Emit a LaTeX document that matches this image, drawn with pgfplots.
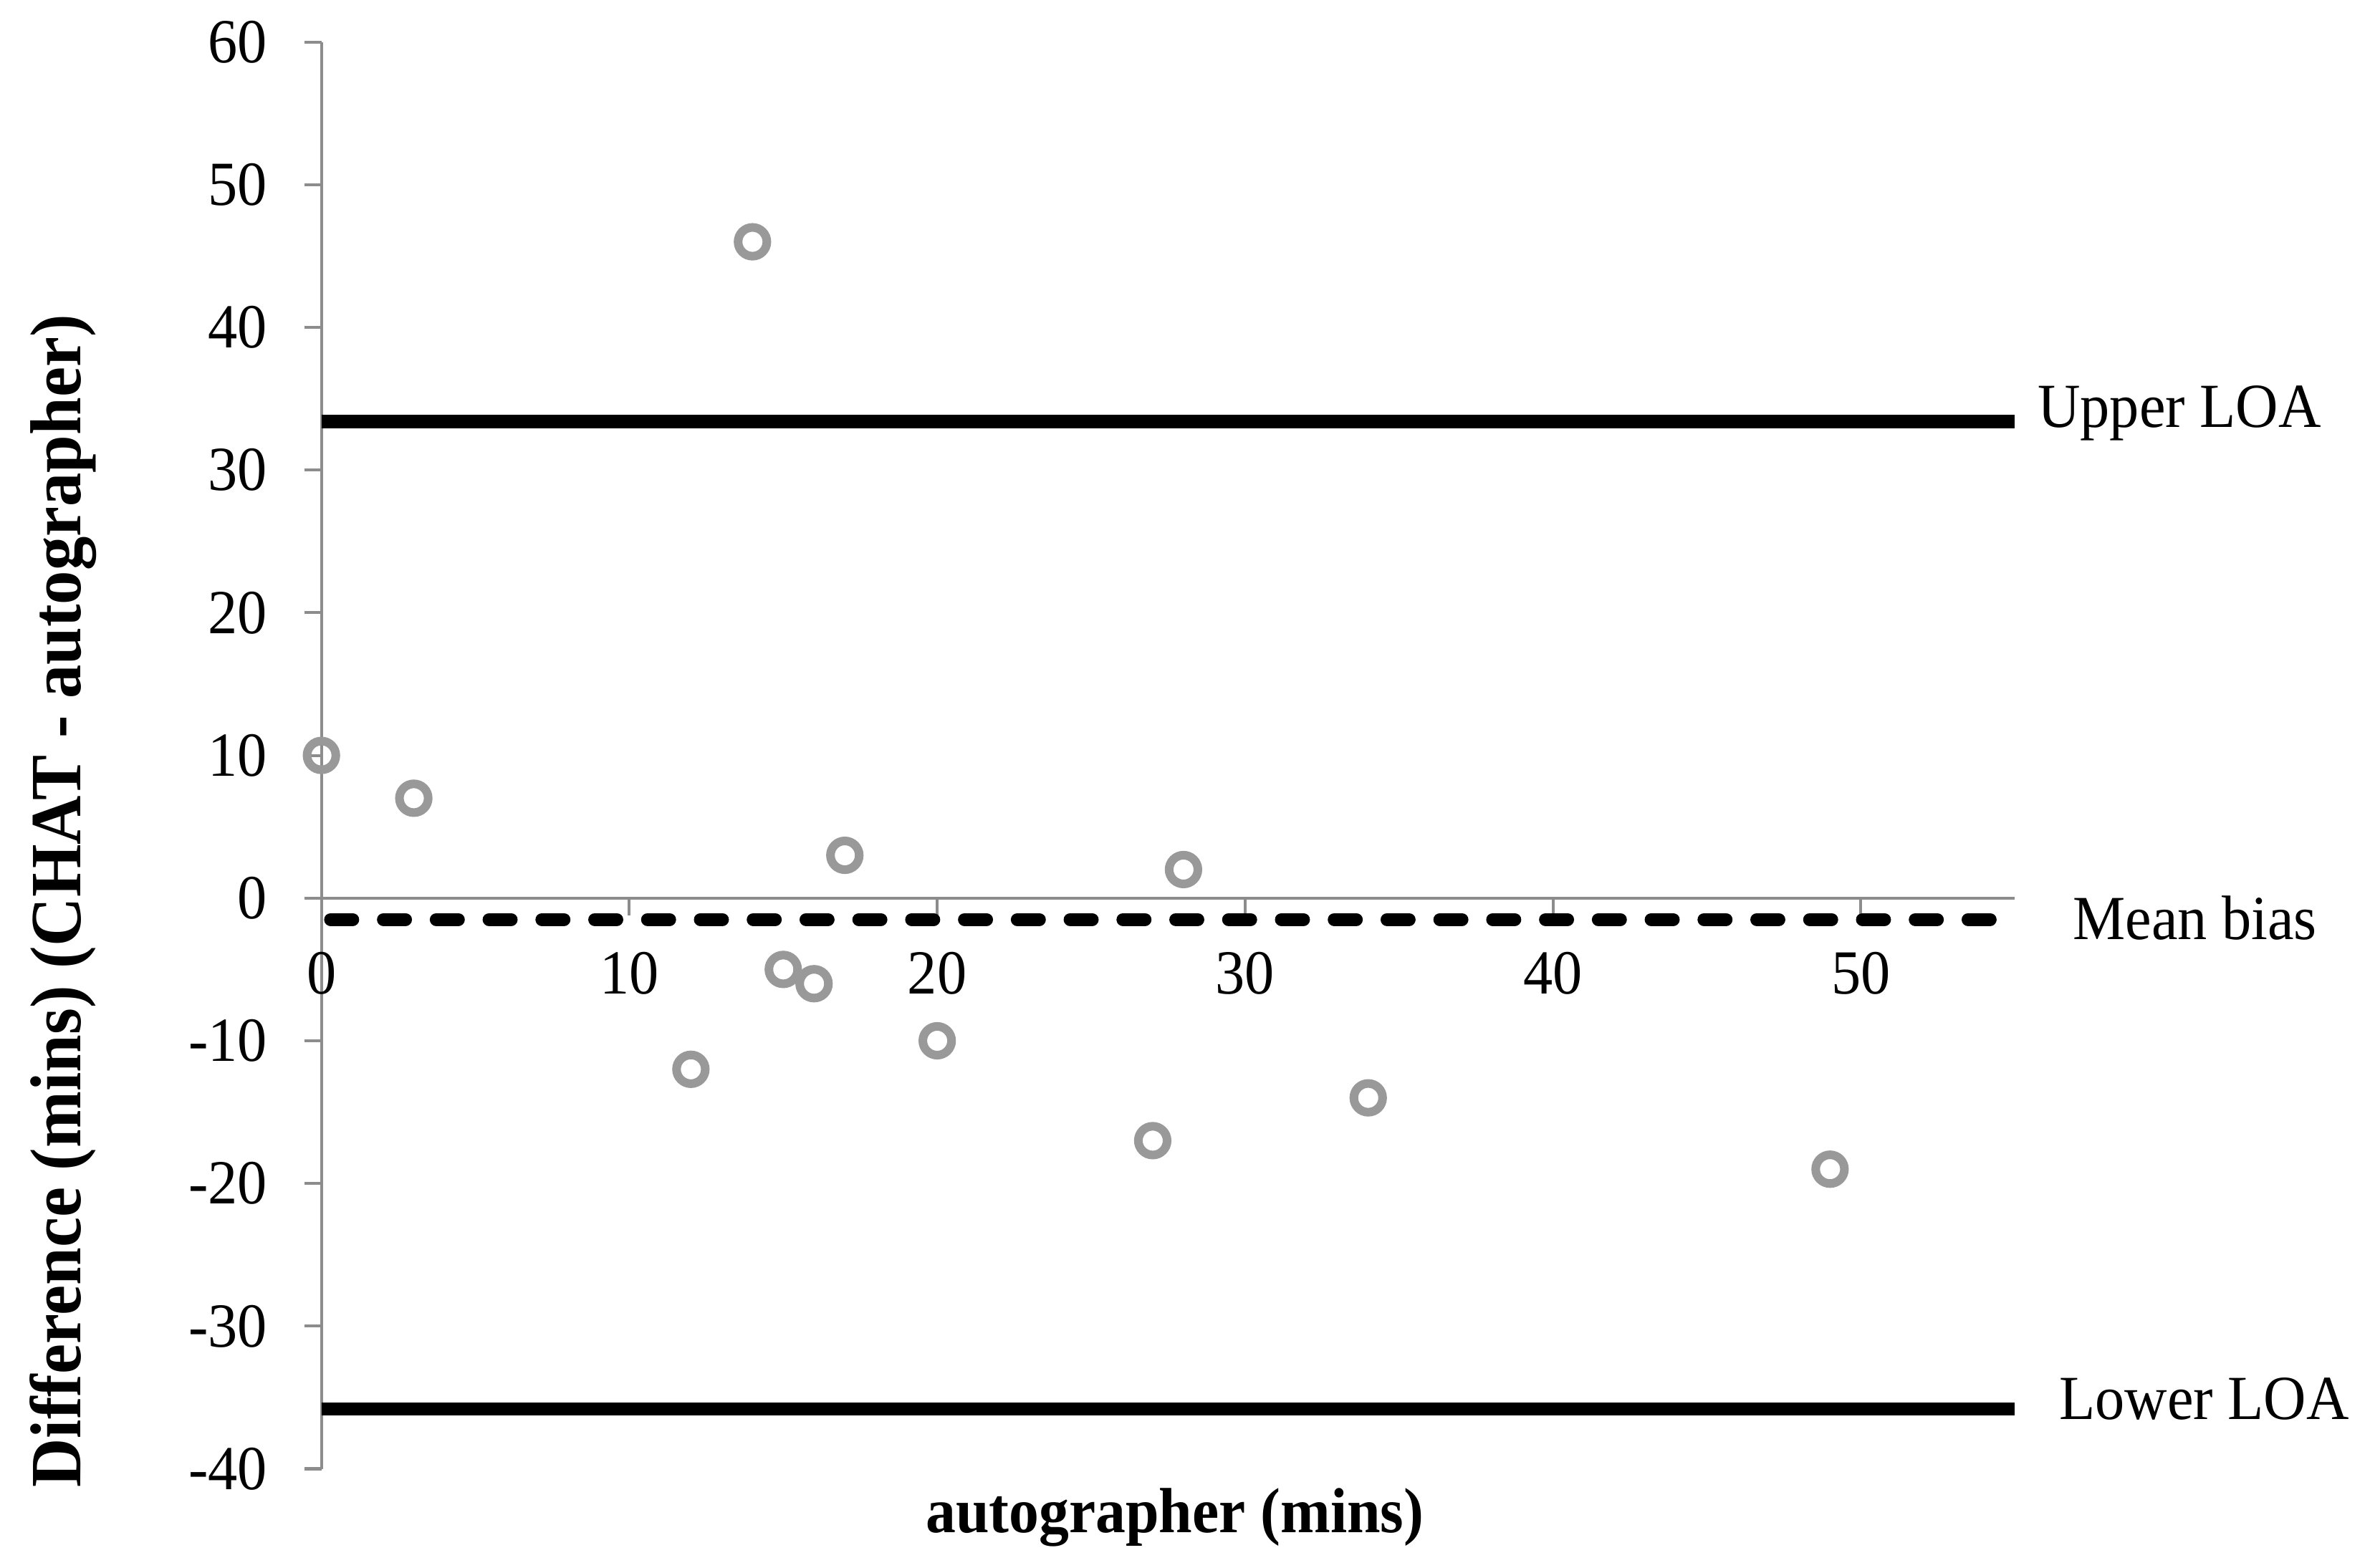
\documentclass[border=0pt]{standalone}
\usepackage{fontspec}
\setmainfont{Liberation Serif}[FakeStretch=0.94]
\usepackage{pgfplots}
\pgfplotsset{compat=1.18}
\definecolor{axisgray}{HTML}{8C8C8C}
\definecolor{markgray}{HTML}{999999}

\begin{document}
\fontsize{12}{14}\selectfont
\begin{tikzpicture}
\begin{axis}[
  scale only axis,
  width=11.38cm, height=9.59cm,
  xmin=0, xmax=55, ymin=-40, ymax=60,
  axis x line=middle, axis y line=left,
  axis line style={axisgray, line width=0.55pt, -},
  xtick={0,10,...,50}, ytick={-40,-30,...,60},
  tick style={axisgray, line width=0.55pt},
  tick align=outside, major tick length=3.3pt,
  hide obscured x ticks=false, hide obscured y ticks=false,
  /pgf/number format/assume math mode=true,
  ticklabel style={font=\fontsize{12}{14}\selectfont},
  xticklabel style={yshift=-0.1cm},
  yticklabel style={xshift=-0.1cm},
  xlabel={\bfseries autographer (mins)},
  ylabel={\bfseries Difference (mins) (CHAT - autographer)},
  xlabel style={at={(axis description cs:0.504,-0.034)}, anchor=center, font=\fontsize{12.2}{14}\selectfont},
  ylabel style={at={(axis description cs:-0.1525,0.398)}, anchor=center, rotate=0, font=\fontsize{13.8}{16}\selectfont},
  clip=false,
]
% limits of agreement and mean bias
\addplot[black, line width=2.5pt] coordinates {(0,33.4) (55,33.4)};
\addplot[black, line width=2.5pt] coordinates {(0,-35.8) (55,-35.8)};
\addplot[black, line width=2.5pt, dash pattern=on 4.2pt off 5.9pt, line cap=round] coordinates {(0.3,-1.5) (55,-1.5)};

\addplot[only marks, mark=o, mark size=2.75pt, draw=markgray, line width=1.65pt]
  coordinates {(0,10) (3,7) (12,-12) (14,46) (15,-5) (16,-6) (17,3) (20,-10) (27,-17) (28,2) (34,-14) (49,-19)};

\node at (axis cs:60.35,34.0) {Upper LOA};
\node at (axis cs:60.85,-1.4) {Mean bias};
\node at (axis cs:61.15,-35.1) {Lower LOA};
\end{axis}
% small white margin on the left, as in the original
\path (current bounding box.south west) ++(-0.06cm,0) coordinate (m);
\path (m);
\end{tikzpicture}
\end{document}
